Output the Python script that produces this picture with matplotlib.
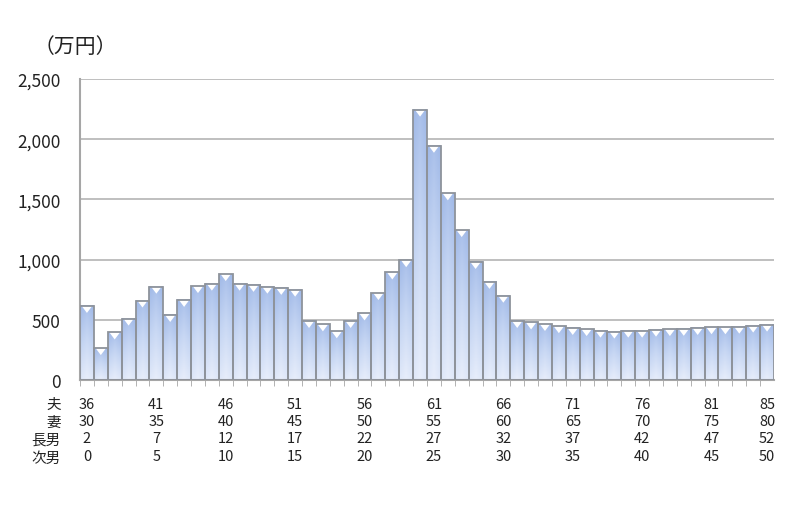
import numpy as np
import matplotlib
matplotlib.use("Agg")
import matplotlib.pyplot as plt
from matplotlib.colors import LinearSegmentedColormap

plt.rcParams['font.family'] = ['Noto Sans CJK JP', 'DejaVu Sans']

# data (万円), one bar per year, husband age 36..85
values = [615, 265, 395, 510, 660, 775, 540, 665, 780, 800,
          880, 800, 790, 775, 765, 750, 490, 462, 405, 490,
          553, 722, 893, 995, 2245, 1945, 1550, 1245, 980, 815,
          700, 490, 478, 465, 447, 432, 423, 410, 402, 410,
          410, 418, 423, 425, 432, 438, 438, 443, 452, 460]
row_names = ['夫', '妻', '長男', '次男']
label_idx = [0, 5, 10, 15, 20, 25, 30, 35, 40, 45, 49]
husband_lbl = [36, 41, 46, 51, 56, 61, 66, 71, 76, 81, 85]
wife_lbl = [30, 35, 40, 45, 50, 55, 60, 65, 70, 75, 80]
son1_lbl = [2, 7, 12, 17, 22, 27, 32, 37, 42, 47, 52]
son2_lbl = [0, 5, 10, 15, 20, 25, 30, 35, 40, 45, 50]

fig = plt.figure(figsize=(8, 5.06), dpi=100)
ax = fig.add_axes([0.1, 0.247, 0.8675, 0.595])

n = len(values)
x = np.arange(n)

# gradient fill for each bar
cmap = LinearSegmentedColormap.from_list('bev', ['#9fb8e7', '#c6d6f3', '#e8eefb'])
gy = np.linspace(0, 1, 64)[:, None]
gx = np.linspace(-1, 1, 16)[None, :]
grad = gy * 0.85 + 0.15 * (1 - np.abs(gx))
for i, v in enumerate(values):
    ax.imshow(grad, cmap=cmap, extent=(i - 0.5, i + 0.5, 0, v), aspect='auto',
              origin='upper', vmin=0, vmax=1, zorder=2, interpolation='bilinear')
    # white bevel triangle at top
    ax.fill([i - 0.38, i + 0.38, i], [v, v, v - 58], color='white', zorder=3, lw=0)

ax.bar(x, values, width=1.0, fill=False, edgecolor='#8e939b', linewidth=1.3, zorder=4)

ax.set_xlim(-0.5, n - 0.5)
ax.set_ylim(0, 2500)
ax.set_yticks(np.arange(0, 2501, 500))
ax.set_yticklabels([f'{t:,}' for t in range(0, 2501, 500)], fontsize=12.5, color='#222222')
ax.yaxis.grid(True, color='#b4b4b4', linewidth=1.2, zorder=0)
ax.set_axisbelow(True)
ax.tick_params(axis='y', length=0, pad=14)

for s in ['top', 'right']:
    ax.spines[s].set_visible(False)
ax.spines['left'].set_color('#a6a6a6')
ax.spines['bottom'].set_color('#a6a6a6')
ax.spines['left'].set_linewidth(1.5)
ax.spines['bottom'].set_linewidth(1.5)

# x labels: four rows
ax.set_xticks(x - 0.5, minor=True)
ax.tick_params(axis='x', which='minor', length=4, color='#a6a6a6')
ax.set_xticks([x[i] for i in label_idx])
ax.set_xticklabels(['\n'.join(str(r[k]) for r in (husband_lbl, wife_lbl, son1_lbl, son2_lbl))
                    for k in range(len(label_idx))],
                   fontsize=10.5, linespacing=1.3, color='#222222')
ax.tick_params(axis='x', which='major', length=0, pad=12)

for k, name in enumerate(row_names):
    fig.text(0.076, 1 - (405 + 18 * k) / 506, name, ha='right', va='center',
             fontsize=10.5, color='#222222')

fig.text(0.094, 1 - 47 / 506, '（万円）', ha='center', va='center', fontsize=15, color='#222222')

fig.savefig('out.png', dpi=100)
